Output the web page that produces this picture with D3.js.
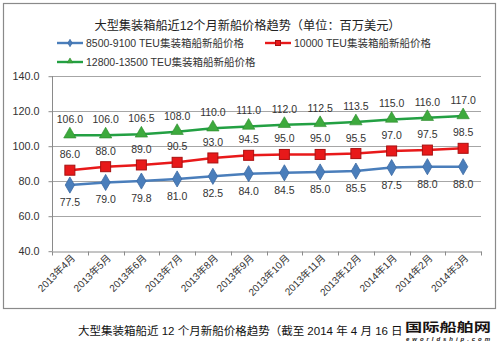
<!DOCTYPE html>
<html>
<head>
<meta charset="utf-8">
<script src="https://cdn.jsdelivr.net/npm/d3@7/dist/d3.min.js"></script>
<style>
  html, body { margin: 0; padding: 0; background: #fff; }
  svg { display: block; }
  text { font-family: "Liberation Sans", Arial, "Noto Sans CJK SC", sans-serif; }
</style>
</head>
<body>
<svg id="chart" width="498" height="342"></svg>
<script>
// Monthly categories
const months = ["2013年4月", "2013年5月", "2013年6月", "2013年7月", "2013年8月", "2013年9月",
                "2013年10月", "2013年11月", "2013年12月", "2014年1月", "2014年2月", "2014年3月"];

// New-build prices, million USD
const teu8500 = [77.5, 79.0, 79.8, 81.0, 82.5, 84.0, 84.5, 85.0, 85.5, 87.5, 88.0, 88.0];
const teu10000 = [86.0, 88.0, 89.0, 90.5, 93.0, 94.5, 95.0, 95.0, 95.5, 97.0, 97.5, 98.5];
const teu12800 = [106.0, 106.0, 106.5, 108.0, 110.0, 111.0, 112.0, 112.5, 113.5, 115.0, 116.0, 117.0];

const seriesNames = ["8500-9100 TEU集装箱船新船价格", "10000 TEU集装箱船新船价格", "12800-13500 TEU集装箱船新船价格"];
const yTicks = [40, 60, 80, 100, 120, 140];

const titleText = "大型集装箱船近12个月新船价格趋势（单位：百万美元）";
const captionText = "大型集装箱船近 12 个月新船价格趋势（截至 2014 年 4 月 16 日";

const series = [
  { name: seriesNames[0], values: teu8500, color: "#4A7EBB", fill: "#4A7EBB", edge: "#3D6BA3", shape: "diamond", labelPos: "below" },
  { name: seriesNames[1], values: teu10000, color: "#E8191A", fill: "#E8191A", edge: "#A81010", shape: "square", labelPos: "above" },
  { name: seriesNames[2], values: teu12800, color: "#23A043", fill: "#3DAA3D", edge: "#2C8A2C", shape: "triangle", labelPos: "above" }
];

const svg = d3.select("#chart");
const plot = { left: 52, right: 481, top: 75.7, bottom: 250.7 };

const x = d3.scaleBand().domain(months).range([plot.left, plot.right]);
const y = d3.scaleLinear().domain([40, 140]).range([plot.bottom, plot.top]);
const cx = m => x(m) + x.bandwidth() / 2;

// Outer frame
svg.append("rect").attr("x", 3.5).attr("y", 3.5).attr("width", 492).attr("height", 305)
  .attr("fill", "#fff").attr("stroke", "#8a8a8a").attr("stroke-width", 1.2);

// Title
svg.append("text").attr("x", 247.5).attr("y", 29.5).attr("text-anchor", "middle")
  .attr("font-size", 12.2).attr("fill", "#222").text(titleText);

// Gridlines
svg.append("g").selectAll("line").data(yTicks.filter(t => t > 40)).join("line")
  .attr("x1", plot.left).attr("x2", plot.right)
  .attr("y1", d => Math.round(y(d)) + 0.5).attr("y2", d => Math.round(y(d)) + 0.5)
  .attr("stroke", "#a6a6a6").attr("stroke-width", 1);

// Y axis
const yAxis = d3.axisLeft(y).tickValues(yTicks).tickFormat(d3.format(".1f")).tickSize(4).tickPadding(9);
const gy = svg.append("g").attr("transform", `translate(${plot.left + 0.5},0.5)`).call(yAxis);
gy.select(".domain").attr("stroke", "#8a8a8a").attr("d", `M0,${y(140)}V${y(40)}`);
gy.selectAll(".tick line").attr("stroke", "#8a8a8a");
gy.selectAll(".tick text").attr("font-size", 10.8).attr("fill", "#333")
  .style("font-family", '"Liberation Sans", Arial, sans-serif');

// X axis
const xAxis = d3.axisBottom(x).tickSize(0).tickFormat("");
const gx = svg.append("g").attr("transform", `translate(0,${Math.round(plot.bottom) + 0.5})`).call(xAxis);
gx.select(".domain").attr("stroke", "#8a8a8a");
const boundaries = months.map(m => x(m)).concat([plot.right]);
gx.selectAll(".bnd").data(boundaries).join("line").attr("class", "bnd")
  .attr("x1", d => Math.round(d) + 0.5).attr("x2", d => Math.round(d) + 0.5)
  .attr("y1", 0).attr("y2", 4).attr("stroke", "#8a8a8a");

svg.append("g").selectAll("text").data(months).join("text")
  .attr("transform", d => `translate(${cx(d) + 6},${plot.bottom + 8}) rotate(-45)`)
  .attr("text-anchor", "end").attr("font-size", 10).attr("fill", "#333").text(d => d);

// Marker shapes
function marker(g, s, size) {
  if (s.shape === "diamond") {
    g.append("path").attr("d", d3.symbol(d3.symbolDiamond, size * size * 0.62)())
      .attr("fill", s.fill).attr("stroke", s.edge).attr("stroke-width", 0.8);
  } else if (s.shape === "square") {
    g.append("rect").attr("x", -size / 2).attr("y", -size / 2).attr("width", size).attr("height", size)
      .attr("fill", s.fill).attr("stroke", s.edge).attr("stroke-width", 1);
  } else {
    g.append("path").attr("d", d3.symbol(d3.symbolTriangle, size * size * 0.55)())
      .attr("transform", "translate(0,-0.8)")
      .attr("fill", s.fill).attr("stroke", s.edge).attr("stroke-width", 0.6);
  }
}

const line = d3.line().x((d, i) => cx(months[i])).y(d => y(d));

series.forEach(s => {
  const g = svg.append("g");
  g.append("path").datum(s.values).attr("d", line).attr("fill", "none")
    .attr("stroke", s.color).attr("stroke-width", 2.6).attr("stroke-linejoin", "round");
  s.values.forEach((v, i) => {
    const mg = g.append("g").attr("transform", `translate(${cx(months[i])},${y(v)})`);
    marker(mg, s, s.shape === "square" ? 10 : 11);
  });
  g.selectAll(".lbl").data(s.values).join("text").attr("class", "lbl")
    .attr("x", (d, i) => cx(months[i]))
    .attr("y", d => s.labelPos === "above" ? y(d) - 12 : y(d) + 21)
    .attr("text-anchor", "middle").attr("font-size", 10.5).attr("fill", "#333")
    .style("font-family", '"Liberation Sans", Arial, sans-serif')
    .text(d => d3.format(".1f")(d));
});

// Legend
const legendPos = [{ x: 57, y: 43 }, { x: 265, y: 43 }, { x: 57, y: 62 }];
series.forEach((s, i) => {
  const p = legendPos[i];
  const g = svg.append("g").attr("transform", `translate(${p.x},${p.y})`);
  g.append("line").attr("x1", 0).attr("x2", 26).attr("y1", 0).attr("y2", 0)
    .attr("stroke", s.color).attr("stroke-width", 2.4);
  const mg = g.append("g").attr("transform", "translate(13,0)");
  marker(mg, s, s.shape === "square" ? 5 : 5);
  g.append("text").attr("x", 29).attr("y", 4).attr("font-size", 10.5).attr("fill", "#333").text(s.name);
});

// Caption below the frame
svg.append("text").attr("x", 78).attr("y", 335).attr("font-size", 11.5).attr("fill", "#111").text(captionText);

// Site mark in the bottom-right corner
const logo = svg.append("g");
logo.append("rect").attr("x", 404).attr("y", 318).attr("width", 94).attr("height", 24).attr("fill", "#fff");
logo.append("text").attr("x", 448).attr("y", 331.5).attr("text-anchor", "middle")
  .attr("font-size", 12.5).attr("font-weight", "bold").attr("fill", "#1a1414")
  .attr("textLength", 86).attr("lengthAdjust", "spacingAndGlyphs")
  .style("font-family", '"Noto Sans CJK SC", sans-serif').text("国际船舶网");
logo.append("text").attr("x", 448).attr("y", 340.5).attr("text-anchor", "middle")
  .attr("font-size", 6).attr("font-weight", "bold").attr("font-style", "italic").attr("fill", "#1a1414")
  .attr("textLength", 84).attr("lengthAdjust", "spacing").text("eworldship.com");
</script>
</body>
</html>
